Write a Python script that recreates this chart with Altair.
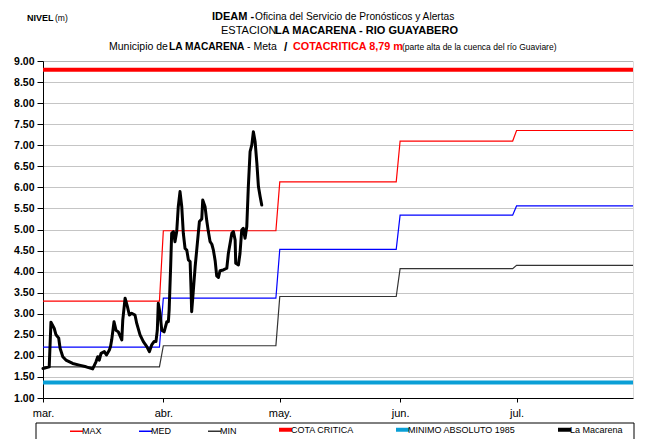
import altair as alt
import pandas as pd

# ---------------- data ----------------
MESES_LABELS = ["ene.", "feb.", "mar.", "abr.", "may.", "jun.", "jul.", "ago.", "sep.", "oct.", "nov.", "dic."]
SERIES = ["MAX", "MED", "MIN", "COTA CRITICA", "MINIMO ABSOLUTO 1985", "La Macarena"]
COLORS = ["#FF0000", "#0000FF", "#333333", "#FF0000", "#0A9FD6", "#000000"]

# monthly reference levels, March .. July
MAX_VAL = [3.30, 4.97, 6.13, 7.10, 7.35]
MED_VAL = [2.21, 3.37, 4.53, 5.34, 5.56]
MIN_VAL = [1.74, 2.24, 3.41, 4.07, 4.15]
COTA_CRITICA = 8.79
MINIMO_1985 = 1.37

# observed level "La Macarena": days after 1 March, level (m)
OBS_DIA = [0.0, 1.6, 2.05, 2.9, 3.35, 4.05, 4.4, 5.1, 5.9, 7.65, 9.35, 11.1, 12.8, 13.65, 14.1,
           14.5, 14.95, 15.8, 16.35, 17.1, 17.4, 17.7, 18.3, 18.8, 19.4, 20.3, 20.55, 21.15, 21.75,
           22.25, 22.85, 23.7, 24.15, 25.0, 25.85, 26.75, 27.4, 28.0, 28.6, 29.1, 29.45, 29.7, 30.15,
           30.6, 31.2, 31.9, 32.3, 32.5, 32.9, 33.15, 33.6, 34.0, 34.45, 34.85, 35.3, 35.75, 36.15,
           36.6, 37.05, 37.45, 37.9, 38.15, 38.3, 38.6, 39.2, 40.05, 40.3, 40.9, 41.15, 41.75, 42.2,
           42.6, 43.05, 43.5, 43.9, 44.35, 44.75, 45.2, 45.6, 46.45, 47.35, 47.75, 48.65, 49.05, 49.5,
           49.65, 50.35, 50.75, 51.2, 51.6, 52.05, 52.5, 52.9, 53.35, 53.8, 54.2, 54.65, 55.1, 55.5,
           55.95, 56.35]
OBS_NIVEL = [1.70, 1.74, 2.80, 2.65, 2.50, 2.42, 2.18, 1.98, 1.90, 1.82, 1.78, 1.74, 1.69, 1.86, 1.98,
             1.90, 2.06, 2.10, 2.02, 2.14, 2.22, 2.38, 2.81, 2.61, 2.57, 2.38, 2.85, 3.37, 3.17,
             2.97, 3.01, 2.97, 2.77, 2.50, 2.34, 2.22, 2.10, 2.26, 2.34, 2.34, 2.61, 3.25, 3.01,
             2.61, 2.57, 2.81, 2.81, 3.09, 4.16, 4.91, 4.95, 4.71, 4.95, 5.54, 5.90, 5.54, 4.91,
             4.55, 4.51, 4.28, 4.24, 3.56, 3.05, 3.40, 4.12, 4.95, 5.19, 5.25, 5.70, 5.54, 5.20,
             4.95, 4.71, 4.65, 4.51, 4.26, 3.90, 3.86, 4.02, 4.04, 4.08, 4.43, 4.91, 4.95, 4.75,
             4.20, 4.16, 4.43, 4.99, 5.03, 4.79, 5.07, 6.02, 6.85, 7.01, 7.32, 7.08, 6.57, 6.02,
             5.78, 5.58]

Y_TICKS = [1.0, 1.5, 2.0, 2.5, 3.0, 3.5, 4.0, 4.5, 5.0, 5.5, 6.0, 6.5, 7.0, 7.5, 8.0, 8.5, 9.0]

# ---------------- tables ----------------
START = pd.Timestamp("2017-03-01")
END = pd.Timestamp("2017-07-31")
month_starts = pd.date_range(START, periods=5, freq="MS")
month_ends = month_starts + pd.offsets.MonthEnd(0)

rows = []
for name, vals in (("MAX", MAX_VAL), ("MED", MED_VAL), ("MIN", MIN_VAL)):
    for s, e, v in zip(month_starts, month_ends, vals):
        rows.append({"serie": name, "fecha": s, "nivel": v})
        rows.append({"serie": name, "fecha": e, "nivel": v})
ref_df = pd.DataFrame(rows)

thick_df = pd.DataFrame({
    "serie": ["COTA CRITICA", "COTA CRITICA", "MINIMO ABSOLUTO 1985", "MINIMO ABSOLUTO 1985"],
    "fecha": [START, END, START, END],
    "nivel": [COTA_CRITICA, COTA_CRITICA, MINIMO_1985, MINIMO_1985],
})

obs_df = pd.DataFrame({
    "serie": "La Macarena",
    "fecha": START + pd.to_timedelta(OBS_DIA, unit="D"),
    "nivel": OBS_NIVEL,
})

FONT = "Liberation Sans, Arial, sans-serif"

x_enc = alt.X(
    "fecha:T",
    scale=alt.Scale(domain=[alt.DateTime(year=2017, month=3, date=1),
                            alt.DateTime(year=2017, month=7, date=31)], nice=False),
    axis=alt.Axis(
        title=None, grid=False,
        values=[alt.DateTime(year=2017, month=m, date=1) for m in range(3, 8)],
        labelExpr="%s[month(datum.value)]" % str(MESES_LABELS),
        labelFont=FONT, labelFontSize=11, labelColor="black", labelFlush=False,
        labelAlign="center",
        tickColor="black", tickSize=4, domainColor="black", labelPadding=5,
    ),
)
y_enc = alt.Y(
    "nivel:Q",
    scale=alt.Scale(domain=[1, 9], nice=False, zero=False),
    axis=alt.Axis(
        title=None, values=Y_TICKS, format=".2f",
        labelFont=FONT, labelFontSize=10.5, labelFontWeight="bold", labelColor="black",
        tickColor="black", tickSize=6, labelPadding=3, domainColor="black",
        grid=True, gridColor="#8a8a8a", gridDash=[1, 1], gridWidth=1,
    ),
)
color_enc = alt.Color(
    "serie:N",
    scale=alt.Scale(domain=SERIES, range=COLORS),
    legend=alt.Legend(
        title=None, orient="none", legendX=29, legendY=364, direction="horizontal",
        columns=6, symbolType="stroke", symbolSize=169,
        symbolStrokeWidth=alt.ExprRef(
            expr="indexof(['COTA CRITICA','MINIMO ABSOLUTO 1985','La Macarena'], datum.value) >= 0 ? 4 : 1.5"),
        labelFont=FONT, labelFontSize=9, labelColor="black", labelOffset=1,
        columnPadding=34, padding=0,
    ),
)

ref_layer = alt.Chart(ref_df).mark_line(strokeWidth=1.2).encode(
    x=x_enc, y=y_enc, color=color_enc, detail="serie:N")
thick_layer = alt.Chart(thick_df).mark_line(strokeWidth=4).encode(
    x=x_enc, y=y_enc, color=color_enc, detail="serie:N")
obs_layer = alt.Chart(obs_df).mark_line(strokeWidth=3, strokeJoin="round", strokeCap="round").encode(
    x=x_enc, y=y_enc, color=color_enc)

# ---------------- header texts (layout only) ----------------
one = pd.DataFrame({"k": [0]})
pieces = [
    ("NIVEL", -16, -43, "bold", "black", 9),
    ("(m)", 12, -43, "normal", "black", 8.5),
    ("IDEAM -", 169, -44, "bold", "black", 11),
    ("Oficina del Servicio de Pronósticos y Alertas", 212, -44, "normal", "black", 10.2),
    ("ESTACION", 178, -30, "normal", "black", 11),
    ("LA MACARENA - RIO GUAYABERO", 232, -30, "bold", "black", 11),
    ("Municipio de", 66, -14, "normal", "black", 10.5),
    ("LA MACARENA", 126, -14, "bold", "black", 10.2),
    ("- Meta", 204, -14, "normal", "black", 10.5),
    ("/", 241, -14, "bold", "black", 12),
    ("COTACRITICA 8,79 m", 250, -14, "bold", "#FF0000", 10.8),
    ("(parte alta de la cuenca del río Guaviare)", 359, -14, "normal", "black", 8.5),
]
text_layers = []
for txt, px, py, fw, col, fs in pieces:
    text_layers.append(
        alt.Chart(one).mark_text(
            text=txt, align="left", baseline="middle", font=FONT,
            fontSize=fs, fontWeight=fw, color=col,
        ).encode(x=alt.value(px), y=alt.value(py))
    )

legend_box = alt.Chart(one).mark_rect(fill="transparent", stroke="black", strokeWidth=1).encode(
    x=alt.value(-7), x2=alt.value(591), y=alt.value(362), y2=alt.value(385))

chart = alt.layer(
    ref_layer, thick_layer, obs_layer, legend_box, *text_layers
).properties(
    width=590, height=337,
    autosize=alt.AutoSizeParams(type="none"),
    padding={"left": 35, "top": 53, "right": 4, "bottom": 41},
).configure_view(
    stroke="#808080", strokeWidth=1
).configure(background="white")

chart.save("out.html", embed_options={"renderer": "svg", "actions": False})
